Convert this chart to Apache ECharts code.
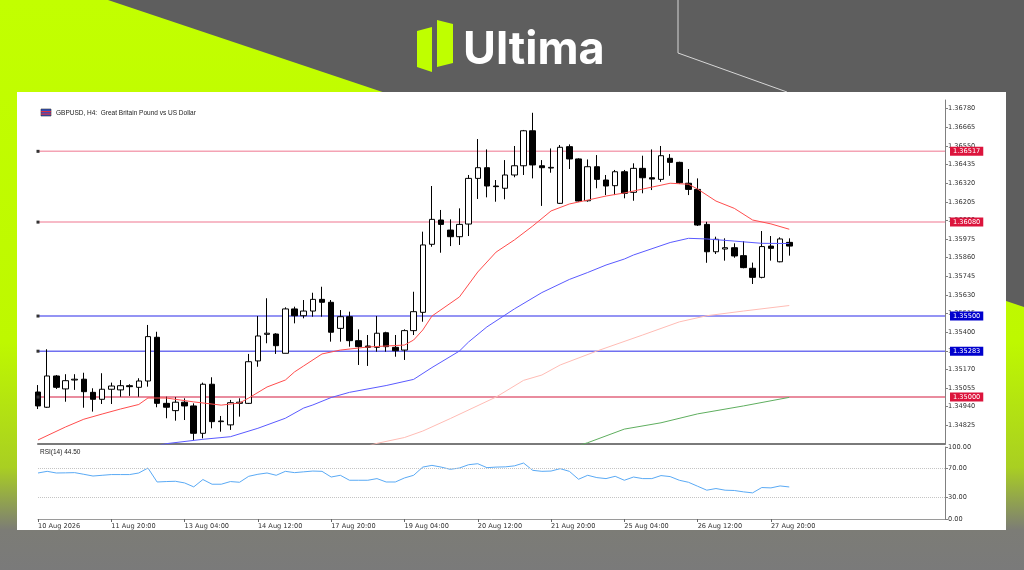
<!DOCTYPE html>
<html>
<head>
<meta charset="utf-8">
<script src="https://cdn.jsdelivr.net/npm/echarts@6/dist/echarts.min.js"></script>
<style>
html,body{margin:0;padding:0;background:#5e5e5e;}
#chart{width:1024px;height:570px;}
</style>
</head>
<body>
<div id="chart"></div>
<script>
// ---- categories (H4 bars) ----
const categories = [
'10 Aug 12:00','10 Aug 16:00','10 Aug 20:00',
'11 Aug 00:00','11 Aug 04:00','11 Aug 08:00','11 Aug 12:00','11 Aug 16:00','11 Aug 20:00',
'12 Aug 00:00','12 Aug 04:00','12 Aug 08:00','12 Aug 12:00','12 Aug 16:00','12 Aug 20:00',
'13 Aug 00:00','13 Aug 04:00','13 Aug 08:00','13 Aug 12:00','13 Aug 16:00','13 Aug 20:00',
'14 Aug 00:00','14 Aug 04:00','14 Aug 08:00','14 Aug 12:00','14 Aug 16:00','14 Aug 20:00',
'17 Aug 00:00','17 Aug 04:00','17 Aug 08:00','17 Aug 12:00','17 Aug 16:00','17 Aug 20:00',
'18 Aug 00:00','18 Aug 04:00','18 Aug 08:00','18 Aug 12:00','18 Aug 16:00','18 Aug 20:00',
'19 Aug 00:00','19 Aug 04:00','19 Aug 08:00','19 Aug 12:00','19 Aug 16:00','19 Aug 20:00',
'20 Aug 00:00','20 Aug 04:00','20 Aug 08:00','20 Aug 12:00','20 Aug 16:00','20 Aug 20:00',
'21 Aug 00:00','21 Aug 04:00','21 Aug 08:00','21 Aug 12:00','21 Aug 16:00','21 Aug 20:00',
'24 Aug 00:00','24 Aug 04:00','24 Aug 08:00','24 Aug 12:00','24 Aug 16:00','24 Aug 20:00',
'25 Aug 00:00','25 Aug 04:00','25 Aug 08:00','25 Aug 12:00','25 Aug 16:00','25 Aug 20:00',
'26 Aug 00:00','26 Aug 04:00','26 Aug 08:00','26 Aug 12:00','26 Aug 16:00','26 Aug 20:00',
'27 Aug 00:00','27 Aug 04:00','27 Aug 08:00','27 Aug 12:00','27 Aug 16:00','27 Aug 20:00',
'28 Aug 00:00','28 Aug 04:00'
];
const emptySlots = 17;

// ---- OHLC ----
const opens = [1.35031,1.34937,1.35130,1.35050,1.35105,1.35110,1.35029,1.34986,1.35048,1.35044,
1.35070,1.35060,1.35099,1.35369,1.34961,1.34916,1.34968,1.34945,1.34776,1.35079,
1.34848,1.34828,1.34961,1.34961,1.35223,1.35387,1.35389,1.35270,1.35544,1.35502,
1.35531,1.35603,1.35585,1.35424,1.35496,1.35348,1.35315,1.35307,1.35397,1.35307,
1.35290,1.35410,1.35523,1.35943,1.36093,1.36031,1.35990,1.36068,1.36350,1.36416,
1.36303,1.36289,1.36371,1.36428,1.36644,1.36428,1.36414,1.36196,1.36546,1.36470,
1.36212,1.36422,1.36340,1.36305,1.36391,1.36264,1.36412,1.36354,1.36344,1.36474,
1.36449,1.36320,1.36282,1.36066,1.35897,1.35914,1.35922,1.35873,1.35795,1.35739,
1.35932,1.35835,1.35955];
const closes = [1.34945,1.35130,1.35060,1.35101,1.35110,1.35033,1.34986,1.35048,1.35068,1.35070,
1.35064,1.35099,1.35373,1.34961,1.34937,1.34968,1.34945,1.34776,1.35079,1.34848,
1.34852,1.34965,1.34968,1.35218,1.35377,1.35394,1.35317,1.35544,1.35502,1.35531,
1.35603,1.35585,1.35400,1.35496,1.35348,1.35311,1.35307,1.35394,1.35311,1.35286,
1.35410,1.35527,1.35939,1.36097,1.36066,1.35990,1.36066,1.36350,1.36416,1.36303,
1.36299,1.36371,1.36428,1.36644,1.36433,1.36416,1.36418,1.36542,1.36470,1.36210,
1.36422,1.36344,1.36303,1.36391,1.36258,1.36412,1.36354,1.36346,1.36490,1.36449,
1.36323,1.36282,1.36062,1.35897,1.35974,1.35922,1.35871,1.35799,1.35739,1.35929,
1.35918,1.35976,1.35932];
const lows = [1.34926,1.34933,1.35050,1.34971,1.35044,1.34934,1.34910,1.34957,1.34957,1.35002,
1.35007,1.35002,1.35064,1.34937,1.34869,1.34854,1.34858,1.34735,1.34745,1.34807,
1.34786,1.34797,1.34879,1.34957,1.35187,1.35332,1.35266,1.35270,1.35455,1.35486,
1.35496,1.35496,1.35342,1.35342,1.35311,1.35198,1.35192,1.35280,1.35280,1.35249,
1.35229,1.35383,1.35465,1.35928,1.35891,1.35932,1.35939,1.35994,1.36223,1.36233,
1.36206,1.36221,1.36357,1.36371,1.36350,1.36180,1.36385,1.36192,1.36408,1.36206,
1.36206,1.36289,1.36247,1.36247,1.36227,1.36212,1.36258,1.36278,1.36329,1.36366,
1.36315,1.36247,1.36056,1.35829,1.35883,1.35842,1.35860,1.35795,1.35698,1.35733,
1.35842,1.35832,1.35873];
const highs = [1.35074,1.35295,1.35136,1.35141,1.35141,1.35150,1.35054,1.35147,1.35089,1.35105,
1.35079,1.35116,1.35445,1.35403,1.35002,1.34999,1.34992,1.34961,1.35089,1.35122,
1.34883,1.34982,1.34992,1.35266,1.35500,1.35610,1.35394,1.35554,1.35558,1.35599,
1.35644,1.35681,1.35599,1.35537,1.35527,1.35418,1.35383,1.35500,1.35403,1.35383,
1.35418,1.35650,1.36021,1.36303,1.36155,1.36097,1.36165,1.36371,1.36593,1.36529,
1.36340,1.36463,1.36550,1.36649,1.36755,1.36463,1.36535,1.36556,1.36560,1.36474,
1.36467,1.36494,1.36371,1.36402,1.36402,1.36443,1.36490,1.36529,1.36550,1.36500,
1.36453,1.36408,1.36350,1.36082,1.35990,1.35980,1.35949,1.35963,1.35830,1.36025,
1.35994,1.35986,1.35980];

// ---- moving averages: [barIndex, price] ----
const maRed = [[0,1.34735],[3,1.34815],[5,1.34863],[7,1.34895],[9,1.34926],[11,1.34954],[12,1.34994],[14,1.34994],[17,1.34970],[20,1.34950],[22,1.34963],[23,1.34994],[25,1.35062],[27,1.35105],[28,1.35155],[29,1.35192],[31,1.35266],[33,1.35290],[36,1.35309],[40,1.35321],[41,1.35352],[42,1.35414],[43,1.35500],[46,1.35618],[48,1.35772],[50,1.35895],[52,1.35970],[54,1.36056],[56,1.36149],[58,1.36192],[60,1.36216],[62,1.36241],[64,1.36260],[66,1.36284],[69,1.36320],[71,1.36314],[72,1.36284],[74,1.36210],[76,1.36165],[78,1.36093],[80,1.36069],[82,1.36036]];
const maBlue = [[13,1.34698],[14,1.34712],[18,1.34739],[21,1.34755],[24,1.34807],[27,1.34869],[29,1.34932],[30,1.34951],[32,1.34997],[34,1.35029],[38,1.35071],[41,1.35109],[43,1.35182],[46,1.35284],[47,1.35340],[49,1.35433],[52,1.35544],[55,1.35645],[58,1.35726],[60,1.35769],[62,1.35815],[64,1.35852],[65,1.35877],[69,1.35954],[71,1.35980],[73,1.35976],[76,1.35963],[79,1.35949],[82,1.35948]];
const maPink = [[36,1.34698],[37,1.34714],[40,1.34750],[42,1.34790],[45,1.34867],[50,1.35000],[53,1.35103],[55,1.35136],[57,1.35198],[61,1.35284],[66,1.35383],[70,1.35464],[73,1.35502],[77,1.35531],[82,1.35565]];
const maGreen = [[59,1.34700],[60,1.34718],[64,1.34802],[68,1.34841],[72,1.34896],[77,1.34945],[82,1.34998]];

// ---- RSI(14) ----
const rsi = [63.9,66.2,63.9,64.1,64.4,62.1,59.7,60.7,61.7,61.7,
61.7,63.9,70.8,51.4,52.0,52.4,50.1,44.6,54.8,48.3,
48.3,52.0,51.0,59.3,62.1,63.9,60.7,66.2,64.4,65.5,
66.6,66.2,58.3,60.7,53.8,53.8,53.8,56.1,51.4,51.4,
57.0,60.7,72.1,74.5,72.1,69.0,70.8,75.4,76.8,71.3,
72.1,72.4,73.8,77.7,67.6,66.2,66.6,69.9,66.2,55.2,
60.7,57.5,56.1,59.3,53.8,58.3,56.1,56.1,60.3,58.9,
53.8,51.0,45.5,40.0,42.3,40.0,39.6,37.7,36.3,43.7,
43.2,45.9,44.5];

// ---- horizontal levels ----
const levels = [1.36517, 1.36080, 1.35500, 1.35283, 1.35000];
const levelLineColors = ['#f4a3b4','#f4a3b4','#7070f0','#7070f0','#e2667e'];
const levelLabelColors = ['#dc143c','#dc143c','#0000cd','#0000cd','#dc143c'];

// ---- tick labels ----
const xTickIndex = [0,8,16,24,32,40,48,56,64,72,80];
const xTickLabels = ['10 Aug 2026','11 Aug 20:00','13 Aug 04:00','14 Aug 12:00','17 Aug 20:00','19 Aug 04:00','20 Aug 12:00','21 Aug 20:00','25 Aug 04:00','26 Aug 12:00','27 Aug 20:00'];
const priceMin = 1.34710, priceMax = 1.36834, priceStep = 0.00115;
const rsiTicks = [0, 30, 70, 100];

const axisCats = categories.concat(new Array(emptySlots).fill(''));
const candles = opens.map((o, i) => [o, closes[i], lows[i], highs[i]]);

const chart = echarts.init(document.getElementById('chart'), null, {renderer: 'canvas'});
const FONT = 'DejaVu Sans';
const tickFn = (idx) => xTickIndex.indexOf(idx) >= 0;

const levelLines = levels.map((v, i) => ({
  type: 'line', name: 'level ' + v, xAxisIndex: 0, yAxisIndex: 0, z: 2,
  data: [[0, v], [axisCats.length - 1, v]],
  showSymbol: false, silent: true,
  lineStyle: {color: levelLineColors[i], width: 1.5},
  markPoint: {
    silent: true, symbol: 'rect', symbolSize: [3, 3],
    itemStyle: {color: '#333'},
    data: [{coord: [0, v], label: {show: false}}]
  },
  endLabel: {show: true, formatter: v.toFixed(5), distance: 5,
    backgroundColor: levelLabelColors[i], color: '#ffffff', fontSize: 6.6, fontFamily: FONT,
    padding: [1, 3, 1, 3]}
}));

const option = {
  animation: false,
  backgroundColor: 'transparent',
  grid: [
    {left: 38, right: 79, top: 100, height: 344},
    {left: 38, right: 79, top: 447, height: 72}
  ],
  xAxis: [
    {type: 'category', gridIndex: 0, data: axisCats, boundaryGap: false,
     axisLine: {show: true, onZero: false, lineStyle: {color: '#7a7a7a', width: 2}},
     axisTick: {show: false}, axisLabel: {show: false}, splitLine: {show: false}},
    {type: 'category', gridIndex: 1, data: axisCats, boundaryGap: false,
     axisLine: {show: true, onZero: false, lineStyle: {color: '#9a9a9a', width: 1}},
     axisTick: {show: true, interval: tickFn, length: 3, lineStyle: {color: '#666'}},
     axisLabel: {show: true, interval: tickFn, align: 'left', margin: 4,
       fontSize: 6.6, fontFamily: FONT, color: '#333',
       formatter: (v, idx) => { const k = xTickIndex.indexOf(idx); return k >= 0 ? xTickLabels[k] : ''; }},
     splitLine: {show: false}}
  ],
  yAxis: [
    {type: 'value', gridIndex: 0, position: 'right', min: priceMin, max: priceMax, interval: priceStep,
     splitLine: {show: false},
     axisLine: {show: true, lineStyle: {color: '#808080'}},
     axisTick: {show: true, length: 3, lineStyle: {color: '#808080'}},
     axisLabel: {fontSize: 6.6, fontFamily: FONT, color: '#333', margin: 3,
       showMinLabel: false, showMaxLabel: false, formatter: v => v.toFixed(5)}},
    {type: 'value', gridIndex: 1, position: 'right', min: 0, max: 100, interval: 10,
     splitLine: {show: false},
     axisLine: {show: true, lineStyle: {color: '#808080'}},
     axisTick: {show: true, length: 3, customValues: rsiTicks, lineStyle: {color: '#808080'}},
     axisLabel: {fontSize: 6.6, fontFamily: FONT, color: '#333', margin: 3, customValues: rsiTicks,
       formatter: v => rsiTicks.indexOf(Math.round(v)) >= 0 ? Number(v).toFixed(2) : ''}}
  ],
  graphic: [
    {type: 'rect', z: -20, silent: true, shape: {x: 0, y: 0, width: 1024, height: 570}, style: {fill: '#5e5e5e'}},
    {type: 'polygon', z: -19, silent: true,
     shape: {points: [[0,0],[108,0],[1024,307],[1024,570],[0,570]]},
     style: {fill: new echarts.graphic.LinearGradient(0, 0, 0, 1, [
       {offset: 0, color: '#c2ff00'},
       {offset: 0.6, color: '#bef800'},
       {offset: 0.82, color: '#a9cf22'},
       {offset: 0.93, color: '#7c7c76'},
       {offset: 1, color: '#7a7a7a'}
     ])}},
    {type: 'polyline', z: -18, silent: true, shape: {points: [[678,0],[678,53],[787,92]]},
     style: {stroke: '#d6d6d6', lineWidth: 1, fill: null}},
    {type: 'polygon', z: -18, silent: true, shape: {points: [[417,31],[432,27],[432,72],[417,67]]}, style: {fill: '#bfff00'}},
    {type: 'polygon', z: -18, silent: true, shape: {points: [[437,20],[453,24],[453,63],[437,67]]}, style: {fill: '#bfff00'}},
    {type: 'text', z: -18, silent: true,
     style: {x: 463, y: 50, text: 'Ultima', fill: '#ffffff', font: 'bold 45px Inter', verticalAlign: 'middle'}},
    {type: 'rect', z: -15, silent: true, shape: {x: 17, y: 92, width: 989, height: 438}, style: {fill: '#ffffff'}},
    {type: 'rect', z: 10, silent: true, shape: {x: 41, y: 109, width: 10, height: 7}, style: {fill: '#2f4fbf', stroke: '#333', lineWidth: 0.6}},
    {type: 'rect', z: 10, silent: true, shape: {x: 41, y: 111, width: 10, height: 1.2}, style: {fill: '#e03040'}},
    {type: 'rect', z: 10, silent: true, shape: {x: 41, y: 113.5, width: 10, height: 1.2}, style: {fill: '#e03040'}},
    {type: 'text', z: 10, silent: true,
     style: {x: 56, y: 113, text: 'GBPUSD, H4:  Great Britain Pound vs US Dollar', fill: '#222', font: '6.5px "Liberation Sans"', verticalAlign: 'middle'}},
    {type: 'text', z: 10, silent: true,
     style: {x: 40, y: 452, text: 'RSI(14) 44.50', fill: '#222', font: '6.5px "Liberation Sans"', verticalAlign: 'middle'}}
  ],
  series: levelLines.concat([
    {type: 'candlestick', name: 'GBPUSD', xAxisIndex: 0, yAxisIndex: 0, data: candles, barWidth: 6, clip: true, z: 3,
     itemStyle: {color: '#ffffff', color0: '#000000', borderColor: '#000000', borderColor0: '#000000', borderWidth: 1}},
    {type: 'line', name: 'MA red', xAxisIndex: 0, yAxisIndex: 0, data: maRed, showSymbol: false, z: 4,
     lineStyle: {color: '#ff4d4d', width: 1}},
    {type: 'line', name: 'MA blue', xAxisIndex: 0, yAxisIndex: 0, data: maBlue, showSymbol: false, z: 4,
     lineStyle: {color: '#5a5aff', width: 1}},
    {type: 'line', name: 'MA pink', xAxisIndex: 0, yAxisIndex: 0, data: maPink, showSymbol: false, z: 4,
     lineStyle: {color: '#ffbcb5', width: 1}},
    {type: 'line', name: 'MA green', xAxisIndex: 0, yAxisIndex: 0, data: maGreen, showSymbol: false, z: 4,
     lineStyle: {color: '#5fae5f', width: 1}},
    {type: 'line', name: 'RSI', xAxisIndex: 1, yAxisIndex: 1, data: rsi, showSymbol: false, z: 4,
     lineStyle: {color: '#5aaaf5', width: 1},
     markLine: {silent: true, symbol: 'none', label: {show: false},
       lineStyle: {color: '#c4c4c4', type: 'dotted', width: 1},
       data: [{yAxis: 70}, {yAxis: 30}]}}
  ])
};
chart.setOption(option);
</script>
</body>
</html>
